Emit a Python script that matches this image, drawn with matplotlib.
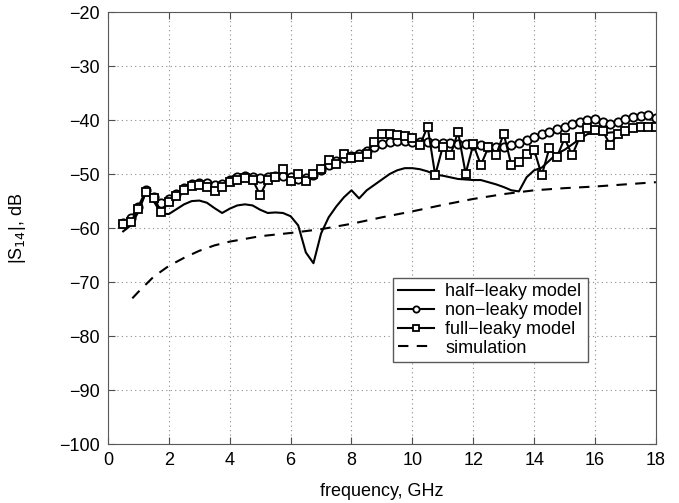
import numpy as np
from matplotlib import pyplot as plt
plt.rcParams["font.family"] = ["Liberation Sans", "DejaVu Sans"]
plt.rcParams["font.size"] = 13

# frequency grid of the model curves, GHz
freq = np.arange(0.5, 18.01, 0.25)

non_leaky = [-59.0, -58.2, -56.0, -53.0, -54.3, -55.3, -54.6, -53.6, -52.6, -51.9,
             -51.6, -51.7, -52.0, -51.8, -51.0, -50.6, -50.3, -50.5, -50.8, -50.6,
             -50.4, -50.3, -50.6, -50.9, -50.8, -50.2, -49.2, -48.3, -47.6, -47.0,
             -46.6, -46.2, -45.7, -44.9, -44.4, -44.1, -43.9, -43.9, -44.0, -44.0,
             -44.1, -44.2, -44.3, -44.3, -44.4, -44.5, -44.6, -44.7, -44.9, -45.0,
             -45.0, -44.7, -44.2, -43.6, -43.1, -42.6, -42.2, -41.7, -41.2, -40.8,
             -40.4, -40.0, -39.8, -40.3, -40.7, -40.4, -39.8, -39.4, -39.2, -39.1,
             -39.6]

full_leaky = [-59.3, -58.8, -56.5, -53.3, -54.5, -57.0, -55.2, -54.0, -53.0, -52.2,
              -52.0, -52.3, -53.2, -52.3, -51.5, -51.0, -50.8, -51.0, -53.9, -51.0,
              -50.5, -49.0, -51.2, -50.0, -51.2, -50.0, -49.0, -47.4, -48.2, -46.3,
              -47.0, -46.8, -46.2, -44.0, -42.5, -42.6, -42.7, -43.0, -43.3, -44.6,
              -41.2, -50.2, -44.9, -46.5, -42.2, -49.9, -44.5, -48.3, -45.0, -46.5,
              -42.5, -48.3, -47.7, -46.2, -45.5, -50.2, -45.2, -46.8, -43.4, -46.5,
              -43.1, -41.5, -41.9, -42.0, -44.6, -42.5, -42.0, -41.5, -41.3, -41.2,
              -41.2]

half_leaky = [-60.6, -59.5, -57.0, -53.3, -55.0, -57.3, -57.4, -56.5, -55.6, -55.0,
              -54.9, -55.3, -56.3, -57.2, -56.4, -55.8, -55.6, -55.8, -56.6, -57.2,
              -57.1, -57.2, -57.8, -59.5, -64.5, -66.5, -61.0, -58.0, -56.0, -54.3,
              -53.0, -54.5, -53.0, -52.0, -51.0, -50.0, -49.3, -48.9, -48.9, -49.1,
              -49.5, -50.1, -50.3, -50.6, -50.9, -51.0, -51.1, -51.1, -51.5, -51.9,
              -52.4, -53.0, -53.2, -50.6, -49.3, -48.8, -47.5, -46.2, -45.5, -44.5,
              -43.5, -42.6, -42.4, -42.5, -42.3, -42.2, -41.9, -41.6, -41.4, -41.2,
              -41.2]

sim_freq = [0.8, 1.0, 1.5, 2.0, 2.5, 3.0, 3.5, 4.0, 5.0, 6.0, 7.0, 8.0, 9.0, 10.0,
            11.0, 12.0, 13.0, 14.0, 15.0, 16.0, 17.0, 18.0]
simulation = [-73.0, -71.8, -69.0, -67.0, -65.5, -64.2, -63.2, -62.5, -61.5, -60.9,
              -60.2, -59.2, -58.0, -56.9, -55.7, -54.6, -53.7, -53.0, -52.6, -52.3,
              -51.9, -51.5]

fig = plt.figure(figsize=(6.79, 5.03), dpi=100)
ax = fig.add_axes([0.159, 0.117, 0.807, 0.859])

ax.plot(freq, half_leaky, '-', color='k', lw=1.5, label='half\u2212leaky model')
ax.plot(freq, non_leaky, '-o', color='k', lw=1.5, ms=6, mfc='w', mec='k', mew=1.3,
        label='non\u2212leaky model')
ax.plot(freq, full_leaky, '-s', color='k', lw=1.5, ms=5.5, mfc='w', mec='k', mew=1.3,
        label='full\u2212leaky model')
ax.plot(sim_freq, simulation, color='k', lw=1.5, ls=(0, (5, 4)), label='simulation')

ax.set_xlim(0, 18)
ax.set_ylim(-100, -20)
ax.set_xticks(np.arange(0, 19, 2))
ax.set_yticks(np.arange(-100, -19, 10))
ax.set_yticklabels([f'\u2212{abs(v)}' for v in range(-100, -19, 10)])
ax.grid(True, color='0.55', ls=(0, (1, 3)), lw=0.8)
ax.tick_params(direction='in', top=True, right=True, length=5, color='0.3', pad=6)
for s in ax.spines.values():
    s.set_color('0.35')

ax.set_xlabel('frequency, GHz', labelpad=10)
ax.set_ylabel('|S$_{14}$|, dB', labelpad=22)

leg = ax.legend(loc='upper left', bbox_to_anchor=(0.52, 0.385), fancybox=False,
                framealpha=1, edgecolor='0.35', borderpad=0.3, labelspacing=0.1,
                handlelength=2.0, handletextpad=0.6, borderaxespad=0,
                markerscale=0.75)
leg.get_frame().set_linewidth(1.0)

plt.savefig('out.png')
